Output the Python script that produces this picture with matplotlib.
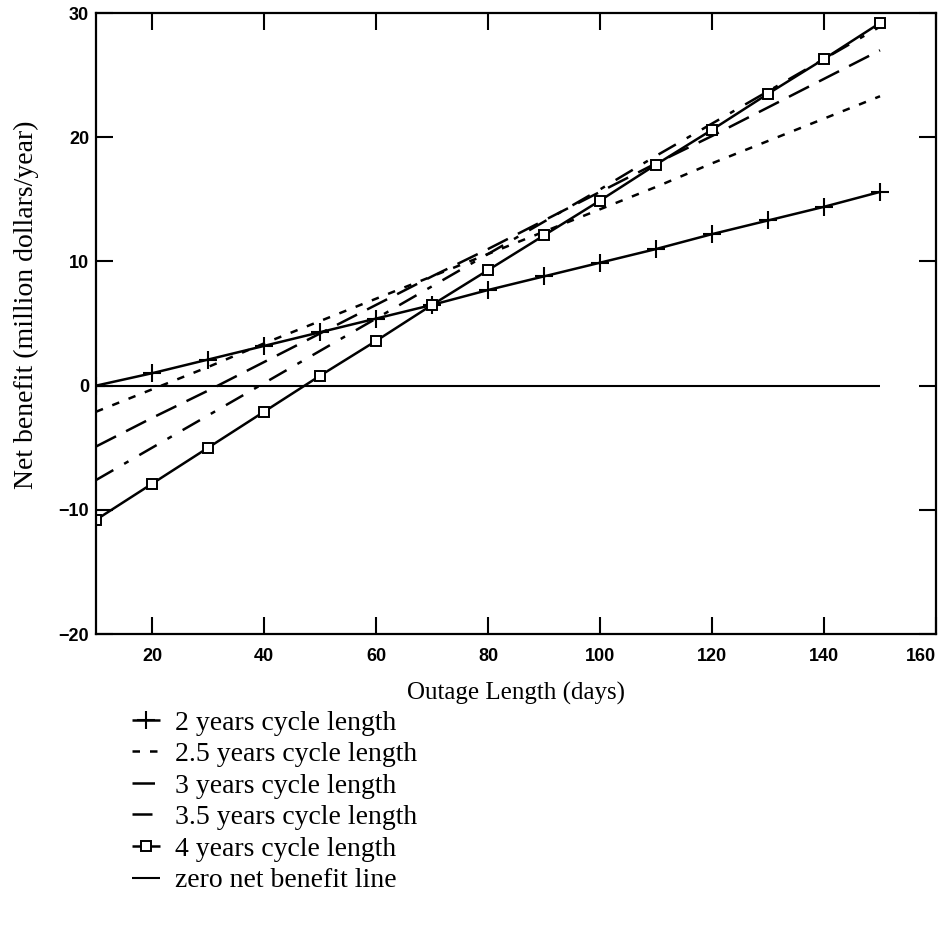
import numpy as np
import matplotlib.pyplot as plt

# outage length (days) and net benefit (million dollars/year) per cycle length
outage = [10, 20, 30, 40, 50, 60, 70, 80, 90, 100, 110, 120, 130, 140, 150]
cycle_2 = [0.0, 1.0, 2.1, 3.2, 4.3, 5.4, 6.5, 7.7, 8.8, 9.9, 11.0, 12.2, 13.3, 14.4, 15.6]
cycle_25 = [-2.1, -0.3, 1.5, 3.4, 5.2, 7.0, 8.8, 10.6, 12.4, 14.2, 16.0, 17.9, 19.7, 21.5, 23.3]
cycle_3 = [-4.9, -2.6, -0.4, 1.9, 4.2, 6.5, 8.8, 11.0, 13.3, 15.6, 17.9, 20.1, 22.4, 24.7, 27.0]
cycle_35 = [-7.6, -5.0, -2.4, 0.2, 2.8, 5.4, 8.0, 10.6, 13.2, 15.8, 18.5, 21.1, 23.7, 26.3, 28.9]
cycle_4 = [-10.8, -7.9, -5.0, -2.1, 0.8, 3.6, 6.5, 9.3, 12.1, 14.9, 17.8, 20.6, 23.5, 26.3, 29.2]
zero_x = [10, 150]
zero_y = [0, 0]

labels = ['2 years cycle length', '2.5 years cycle length', '3 years cycle length',
          '3.5 years cycle length', '4 years cycle length', 'zero net benefit line']
xticks = [20, 40, 60, 80, 100, 120, 140, 160]
yticks = [-20, -10, 0, 10, 20, 30]

plt.rcParams['font.family'] = 'Liberation Serif'
plt.rcParams['lines.solid_capstyle'] = 'butt'

fig = plt.figure(figsize=(9.43, 9.38), dpi=100)
ax = fig.add_axes([0.1018, 0.324, 0.8908, 0.6621])

lw = 1.8
ax.plot(outage, cycle_2, '-', color='k', lw=lw, marker='+', ms=13, mew=1.5, label=labels[0])
ax.plot(outage, cycle_25, color='k', lw=lw, dashes=(3, 4), label=labels[1])
ax.plot(outage, cycle_3, color='k', lw=lw, dashes=(9, 4.5), label=labels[2])
ax.plot(outage, cycle_35, color='k', lw=lw, dashes=(8, 5, 2, 5), label=labels[3])
ax.plot(outage, cycle_4, '-', color='k', lw=lw, marker='s', ms=7, mew=1.4,
        mfc='white', label=labels[4])
ax.plot(zero_x, zero_y, '-', color='k', lw=1.5, label=labels[5])

ax.set_xlim(10, 160)
ax.set_ylim(-20, 30)
ax.set_xticks(xticks)
ax.set_yticks(yticks)
ax.set_yticklabels([str(t).replace('-', '\u2212') for t in yticks])
ax.tick_params(direction='in', length=12, width=1.5, top=True, right=True)
ax.tick_params(axis='x', pad=10)
ax.tick_params(axis='y', pad=5)
for lab in ax.get_xticklabels() + ax.get_yticklabels():
    lab.set_fontfamily('Liberation Sans')
    lab.set_fontweight('bold')
    lab.set_fontsize(13)
# keep the last x label inside the frame edge
ax.get_xticklabels()[-1].set_horizontalalignment('right')
for s in ax.spines.values():
    s.set_linewidth(1.6)

ax.set_xlabel('Outage Length (days)', fontsize=18, labelpad=12)
ax.set_ylabel('Net benefit (million dollars/year)', fontsize=20)
ax.yaxis.set_label_coords(-0.068, 0.53)

fig.legend(loc='upper left', bbox_to_anchor=(0.14, 0.243), frameon=False,
           fontsize=20, handlelength=1.0, handletextpad=0.55, labelspacing=0.22,
           borderaxespad=0, borderpad=0)

fig.savefig('out.png', dpi=100)
